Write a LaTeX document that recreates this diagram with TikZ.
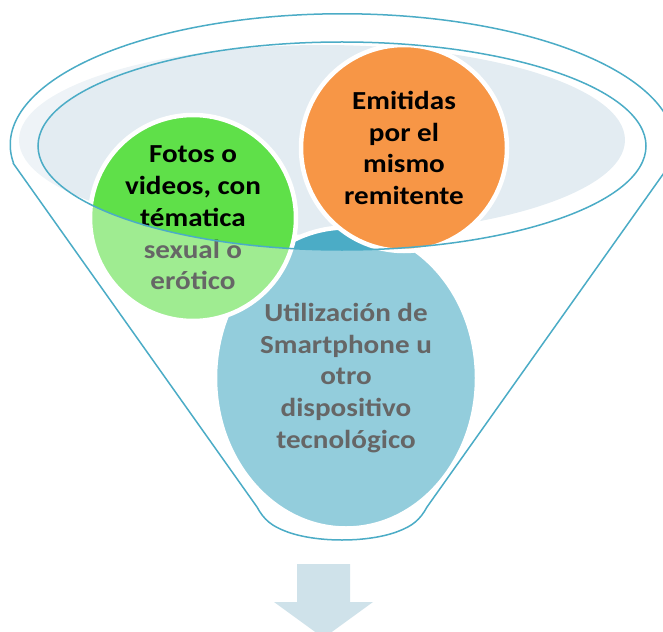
\documentclass[tikz,border=0pt]{standalone}
\usepackage{fontspec}
\setmainfont{Carlito}[FakeStretch=1.12]
\usetikzlibrary{shapes.geometric}
\definecolor{funnelblue}{RGB}{75,172,198}
\definecolor{mouthfill}{RGB}{227,236,242}
\definecolor{fotogreen}{RGB}{95,224,73}
\definecolor{emitorange}{RGB}{247,150,70}
\definecolor{arrowblue}{RGB}{207,226,234}

\begin{document}
\begin{tikzpicture}[x=1pt,y=-1pt,
  bubble/.style={circle, draw=white, line width=4.5pt, inner sep=0pt, align=center,
    font=\fontsize{26}{31.8}\selectfont\bfseries},
  rim/.style={draw=funnelblue, line width=1.5pt}]
\useasboundingbox (0,0) rectangle (663,631);

% mouth of the funnel
\fill[mouthfill] (322,140) ellipse[x radius=303, y radius=95];

% bubbles
\node[bubble, ellipse, fill=funnelblue, minimum width=262, minimum height=301] (util) at (346,378)
  {Utilización de\\Smartphone u\\otro\\dispositivo\\tecnológico};
\node[bubble, fill=fotogreen, minimum size=206] (foto) at (193,218)
  {Fotos o\\videos, con\\tématica\\sexual o\\erótico};
\node[bubble, fill=emitorange, minimum size=206] (emit) at (404,148)
  {Emitidas\\por el\\mismo\\remitente};

% glass: paler below the rim
\fill[white, opacity=0.4, even odd rule] (0,0) rectangle (663,631)
  (342,146) ellipse[x radius=304, y radius=104];

% rim and body
\draw[rim] (342,146) ellipse[x radius=304, y radius=104];
\draw[rim] (13,163) -- (257,507) .. controls (264,520) and (272,526) .. (285,531)
  .. controls (315,543) and (369,543) .. (399,531)
  .. controls (412,526) and (420,520) .. (427,507) -- (671,163)
  arc[start angle=368, end angle=172, x radius=332, y radius=131];

% outlet arrow
\fill[arrowblue] (297,564) -- (350,564) -- (350,602) -- (373,602) -- (323.5,638)
  -- (274,602) -- (297,602) -- cycle;
\end{tikzpicture}
\end{document}
